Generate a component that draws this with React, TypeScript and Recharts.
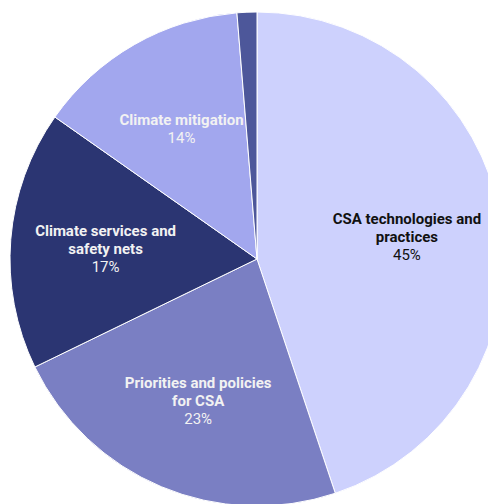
import React from "react";
import { PieChart, Pie, Cell } from "recharts";

const categories = [
  "CSA technologies and practices",
  "Priorities and policies for CSA",
  "Climate services and safety nets",
  "Climate mitigation",
  "Other",
];
const values = [45, 23, 17, 14, 1.3];
const labelLines: string[][] = [
  ["CSA technologies and", "practices"],
  ["Priorities and policies", "for CSA"],
  ["Climate services and", "safety nets"],
  ["Climate mitigation"],
  [],
];
const percentLabels = ["45%", "23%", "17%", "14%", ""];
const colors = ["#cdd1fd", "#7a7fc3", "#2b3572", "#a2a7ee", "#4d579a"];
const textColors = ["#111111", "#f2f2f2", "#f2f2f2", "#f2f2f2", "#f2f2f2"];

const data = categories.map((name, i) => ({ name, value: values[i] }));

const RAD = Math.PI / 180;

const renderLabel = (props: any) => {
  const { cx, cy, midAngle, outerRadius, index } = props;
  const lines = labelLines[index];
  if (!lines || lines.length === 0) return null;
  const r = outerRadius * 0.615;
  const x = cx + r * Math.cos(-midAngle * RAD);
  const y = cy + r * Math.sin(-midAngle * RAD) + 2;
  const all = [...lines, percentLabels[index]];
  const lh = 18;
  const startY = y - ((all.length - 1) * lh) / 2;
  return (
    <text
      x={x}
      y={startY}
      textAnchor="middle"
      dominantBaseline="central"
      fill={textColors[index]}
      style={{ fontFamily: "Roboto, sans-serif", fontSize: 15 }}
    >
      {all.map((t, i) => (
        <tspan
          key={i}
          x={x}
          y={startY + i * lh}
          fontWeight={i < lines.length ? 700 : 400}
        >
          {t}
        </tspan>
      ))}
    </text>
  );
};

export default function App() {
  return (
    <PieChart width={488} height={496} margin={{ top: 0, right: 0, bottom: 0, left: 0 }}>
      <Pie
        data={data}
        dataKey="value"
        nameKey="name"
        cx={249}
        cy={251}
        outerRadius={247}
        startAngle={90}
        endAngle={-270}
        stroke="#ffffff"
        strokeWidth={1}
        label={renderLabel}
        labelLine={false}
        isAnimationActive={false}
      >
        {data.map((d, i) => (
          <Cell key={d.name} fill={colors[i]} />
        ))}
      </Pie>
    </PieChart>
  );
}
